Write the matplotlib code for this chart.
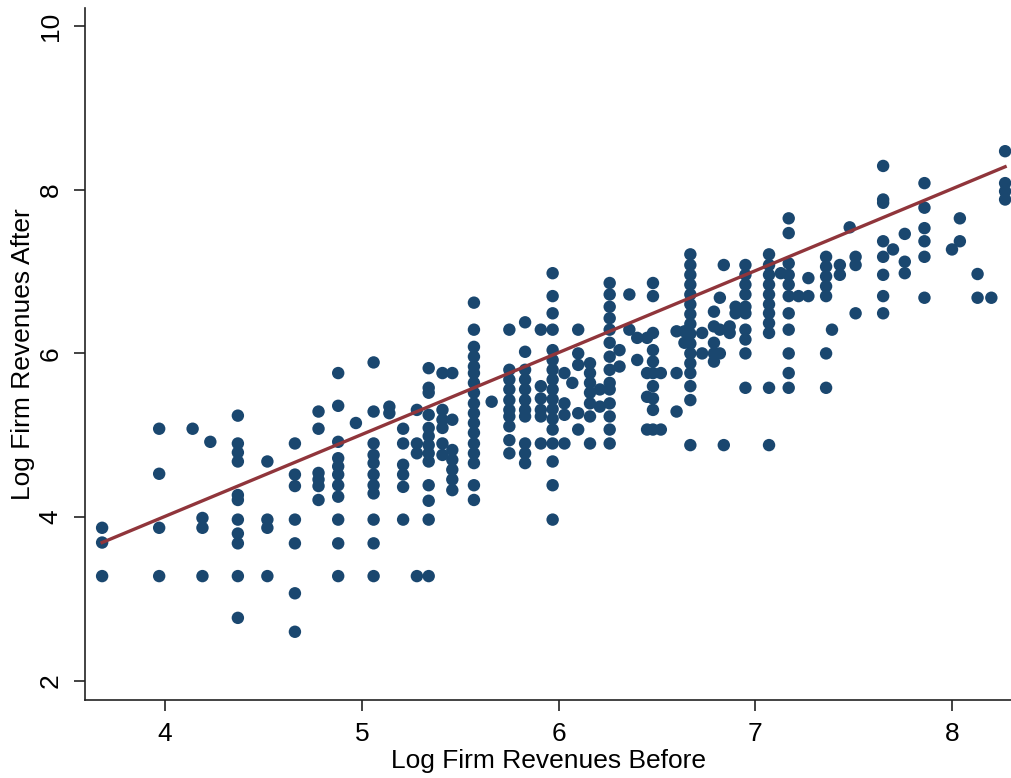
import matplotlib
matplotlib.use("Agg")
import matplotlib.pyplot as plt
import numpy as np

# ---------------------------------------------------------------------------
# Data: points sit on discrete "before" values, so keep them per column
# ---------------------------------------------------------------------------

col_x = [3.68, 3.97, 4.14, 4.19, 4.23, 4.37, 4.52, 4.66, 4.78, 4.88,
         4.97, 5.06, 5.14, 5.21, 5.28, 5.34, 5.41, 5.46, 5.57, 5.66,
         5.75, 5.83, 5.91, 5.97, 6.03, 6.07, 6.10, 6.16, 6.21, 6.26,
         6.31, 6.36, 6.40, 6.45, 6.48, 6.52, 6.60, 6.64, 6.67, 6.73,
         6.79, 6.82, 6.84, 6.87, 6.90, 6.95, 7.07, 7.13, 7.17, 7.22,
         7.27, 7.36, 7.39, 7.43, 7.48, 7.51, 7.65, 7.70, 7.76, 7.86,
         8.00, 8.04, 8.13, 8.20, 8.27]

col_y = [
    [3.87, 3.69, 3.28],
    [5.08, 4.53, 3.87, 3.28],
    [5.08],
    [3.99, 3.87, 3.28],
    [4.92],
    [5.24, 4.90, 4.79, 4.68, 4.27, 4.21, 3.97, 3.80, 3.68, 3.28, 2.77],
    [4.68, 3.97, 3.87, 3.28],
    [4.90, 4.52, 4.38, 3.97, 3.68, 3.07, 2.60],
    [5.29, 5.08, 4.54, 4.46, 4.38, 4.21],
    [5.76, 5.36, 4.92, 4.72, 4.62, 4.52, 4.39, 4.25, 3.97, 3.68, 3.28],
    [5.15],
    [5.89, 5.29, 4.90, 4.76, 4.66, 4.52, 4.39, 4.29, 3.97, 3.68, 3.28],
    [5.35, 5.27],
    [5.08, 4.90, 4.64, 4.52, 4.37, 3.97],
    [5.31, 4.90, 4.78, 3.28],
    [5.82, 5.58, 5.52, 5.25, 5.09, 4.99, 4.88, 4.78, 4.68, 4.39, 4.20, 3.97, 3.28],
    [5.76, 5.31, 5.19, 5.09, 4.90, 4.76],
    [5.76, 5.19, 4.82, 4.70, 4.58, 4.46, 4.33],
    [6.62, 6.29, 6.08, 5.96, 5.84, 5.76, 5.64, 5.52, 5.39, 5.27, 5.15, 5.03,
     4.90, 4.78, 4.66, 4.39, 4.21],
    [5.41],
    [6.29, 5.80, 5.68, 5.56, 5.43, 5.31, 5.23, 5.11, 4.94, 4.78],
    [6.38, 6.02, 5.80, 5.68, 5.56, 5.43, 5.31, 5.23, 4.90, 4.78, 4.66],
    [6.29, 5.60, 5.45, 5.31, 5.23, 4.90],
    [6.98, 6.70, 6.49, 6.29, 6.04, 5.92, 5.80, 5.68, 5.56, 5.44, 5.32, 5.20,
     5.07, 4.90, 4.68, 4.39, 3.97],
    [5.76, 5.39, 5.25, 4.90],
    [5.64],
    [6.29, 6.00, 5.86, 5.27, 5.07],
    [5.88, 5.76, 5.64, 5.52, 5.39, 5.23, 4.90],
    [5.56, 5.35],
    [6.86, 6.72, 6.57, 6.43, 6.29, 6.13, 5.96, 5.80, 5.64, 5.56, 5.39, 5.23,
     5.07, 4.90],
    [6.04, 5.84],
    [6.72, 6.29],
    [6.19, 5.92],
    [6.19, 5.76, 5.47, 5.07],
    [6.86, 6.70, 6.25, 6.04, 5.90, 5.76, 5.60, 5.45, 5.31, 5.07],
    [5.76, 5.07],
    [6.27, 5.76, 5.29],
    [6.27, 6.13],
    [7.21, 7.08, 6.96, 6.84, 6.72, 6.60, 6.48, 6.36, 6.24, 6.12, 6.00, 5.88,
     5.76, 5.60, 5.43, 4.88],
    [6.25, 6.00],
    [6.51, 6.33, 6.13, 6.00, 5.90],
    [6.68, 6.29, 6.00],
    [7.08, 4.88],
    [6.33, 6.25],
    [6.57, 6.49],
    [7.08, 6.96, 6.84, 6.72, 6.57, 6.49, 6.29, 6.17, 6.00, 5.58],
    [7.21, 7.08, 6.96, 6.84, 6.72, 6.60, 6.49, 6.37, 6.25, 5.58, 4.88],
    [6.98],
    [7.65, 7.47, 7.10, 6.96, 6.84, 6.70, 6.49, 6.29, 6.00, 5.76, 5.58],
    [6.70],
    [6.92, 6.70],
    [7.18, 7.06, 6.94, 6.82, 6.70, 6.00, 5.58],
    [6.29],
    [7.08, 6.96],
    [7.54],
    [7.18, 7.08, 6.49],
    [8.29, 7.88, 7.84, 7.37, 7.18, 6.96, 6.70, 6.49],
    [7.27],
    [7.46, 7.12, 6.98],
    [8.08, 7.78, 7.53, 7.37, 7.18, 6.68],
    [7.27],
    [7.65, 7.37],
    [6.97, 6.68],
    [6.68],
    [8.47, 8.08, 7.98, 7.88],
]

# fitted line (fit on the full sample, overlaps included)
fit_slope = 1.0
fit_intercept = 0.01

x_ticks = [4, 5, 6, 7, 8]
y_ticks = [2, 4, 6, 8, 10]

# ---------------------------------------------------------------------------
# Plot
# ---------------------------------------------------------------------------

plt.rcParams.update({
    "font.family": ["Liberation Sans", "DejaVu Sans"],
    "font.size": 19,
})

x = np.concatenate([[cx] * len(cy) for cx, cy in zip(col_x, col_y)])
y = np.concatenate([np.array(cy) for cy in col_y])

fit_x = np.array([x.min(), x.max()])
fit_y = fit_intercept + fit_slope * fit_x

fig = plt.figure(figsize=(10.12, 7.78), dpi=100)
ax = fig.add_axes([0.084, 0.1003, 0.916, 0.8895])

ax.scatter(x, y, s=80, color="#1a476f", edgecolors="none", zorder=2)
ax.plot(fit_x, fit_y, color="#90353b", linewidth=2.4, zorder=3)

ax.set_xlim(3.593, 8.305)
ax.set_ylim(1.767, 10.22)
ax.set_xticks(x_ticks)
ax.set_yticks(y_ticks)

for side in ("top", "right"):
    ax.spines[side].set_visible(False)
for side in ("left", "bottom"):
    ax.spines[side].set_linewidth(1.2)
    ax.spines[side].set_color("#222222")

ax.tick_params(axis="both", length=8, width=1.2, color="#222222")
ax.tick_params(axis="x", pad=8)
ax.tick_params(axis="y", pad=8)
for lab in ax.get_yticklabels():
    lab.set_rotation(90)
    lab.set_verticalalignment("center")

ax.set_xlabel("Log Firm Revenues Before", labelpad=2)
ax.set_ylabel("Log Firm Revenues After")
ax.yaxis.set_label_coords(-0.054, 0.5)

fig.savefig("out.png", dpi=100)
